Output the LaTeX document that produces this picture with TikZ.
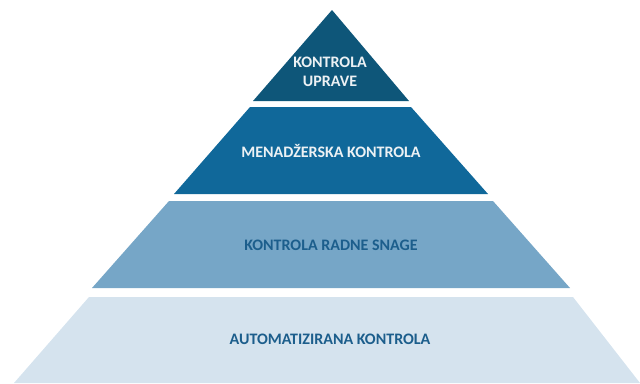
\documentclass[tikz,border=0pt]{standalone}
\usepackage{fontspec}
\setmainfont{Carlito}
\usepackage{xcolor}
\definecolor{levelA}{HTML}{0E5679}
\definecolor{levelB}{HTML}{10689A}
\definecolor{levelC}{HTML}{76A6C7}
\definecolor{levelD}{HTML}{D5E3EE}
\definecolor{textdark}{HTML}{1C5E8C}

\begin{document}
\begin{tikzpicture}[x=1pt,y=-1pt,
  lbl/.style={font=\fontsize{16}{18}\selectfont\bfseries, align=center, inner sep=0pt},
  lbllight/.style={lbl, text=white!92!levelA},
  lbldark/.style={lbl, text=textdark}]
\useasboundingbox (0,0) rectangle (640,383);

\fill[levelA] (332,10) -- (409,101) -- (253,101) -- cycle;
\fill[levelB] (250,107) -- (411,107) -- (488,194) -- (174,194) -- cycle;
\fill[levelC] (169,201) -- (493,201) -- (570,288) -- (92,288) -- cycle;
\fill[levelD] (89,297) -- (573,297) -- (640,383) -- (14,383) -- cycle;

\node[lbllight] (upr) at (330,72) {KONTROLA\\[1pt]UPRAVE};
\node[lbllight] (men) at (331,151) {MENADŽERSKA KONTROLA};
\node[lbldark] (rad) at (331,245) {KONTROLA RADNE SNAGE};
\node[lbldark] (aut) at (330,339) {AUTOMATIZIRANA KONTROLA};
\end{tikzpicture}
\end{document}
